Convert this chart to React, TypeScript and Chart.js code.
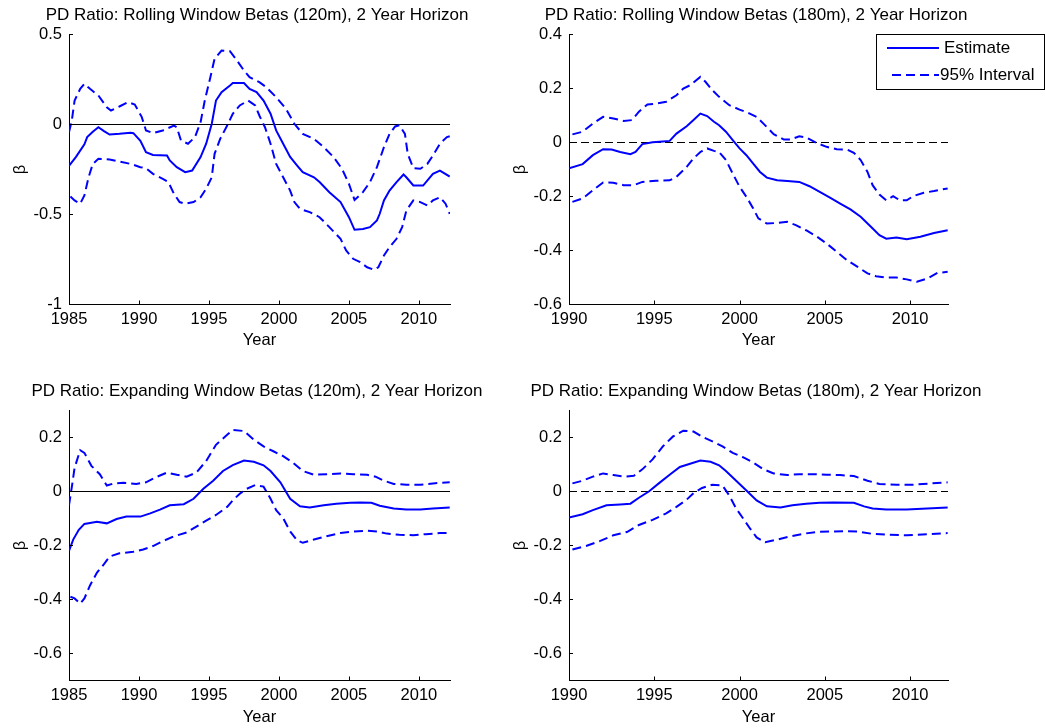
import React, { useEffect, useRef } from "react";
import { Chart, registerables } from "chart.js";

Chart.register(...registerables);

type Pt = [number, number];

// ---------- tick labels ----------
const xTicks1985 = [1985, 1990, 1995, 2000, 2005, 2010];
const xTicks1990 = [1990, 1995, 2000, 2005, 2010];
const yTicksRolling120 = [-1, -0.5, 0, 0.5];
const yTicksRolling180 = [-0.6, -0.4, -0.2, 0, 0.2, 0.4];
const yTicksExpanding = [-0.6, -0.4, -0.2, 0, 0.2];

const titles = [
  "PD Ratio: Rolling Window Betas (120m), 2 Year Horizon",
  "PD Ratio: Rolling Window Betas (180m), 2 Year Horizon",
  "PD Ratio: Expanding Window Betas (120m), 2 Year Horizon",
  "PD Ratio: Expanding Window Betas (180m), 2 Year Horizon",
];
const legendLabels = ["Estimate", "95% Interval"];
const xAxisLabel = "Year";
const yAxisLabel = "β";

// ---------- Panel 1: rolling 120m ----------
const rolling120Estimate: Pt[] = [
  [1985.0, -0.23], [1985.5, -0.18], [1986.1, -0.11], [1986.3, -0.07], [1986.7, -0.04], [1987.1, -0.015],
  [1987.5, -0.037], [1987.9, -0.056], [1988.6, -0.052], [1989.4, -0.046], [1989.6, -0.048], [1990.1, -0.09],
  [1990.5, -0.154], [1991.0, -0.169], [1992.0, -0.172], [1992.2, -0.2], [1992.7, -0.237], [1993.3, -0.265],
  [1993.8, -0.256], [1994.4, -0.181], [1994.8, -0.107], [1995.2, 0.004], [1995.5, 0.133], [1995.9, 0.18],
  [1996.5, 0.217], [1996.7, 0.23], [1997.5, 0.23], [1997.9, 0.198], [1998.4, 0.18], [1998.9, 0.133],
  [1999.4, 0.06], [1999.8, -0.033], [2000.3, -0.107], [2000.8, -0.18], [2001.3, -0.228], [2001.7, -0.265],
  [2002.5, -0.293], [2002.9, -0.32], [2003.6, -0.376], [2004.4, -0.431], [2005.0, -0.515], [2005.4, -0.585],
  [2006.0, -0.58], [2006.5, -0.57], [2007.0, -0.533], [2007.2, -0.496], [2007.5, -0.422], [2007.9, -0.367],
  [2008.4, -0.32], [2008.9, -0.278], [2009.1, -0.293], [2009.6, -0.339], [2010.3, -0.339], [2011.0, -0.274],
  [2011.5, -0.256], [2012.2, -0.289],
];
const rolling120Upper: Pt[] = [
  [1985.0, -0.043], [1985.2, 0.022], [1985.4, 0.133], [1985.8, 0.198], [1986.1, 0.226], [1986.5, 0.198],
  [1987.1, 0.161], [1987.7, 0.096], [1988.0, 0.078], [1988.6, 0.1], [1989.2, 0.124], [1989.7, 0.111],
  [1990.2, 0.041], [1990.5, -0.033], [1991.0, -0.048], [1991.7, -0.033], [1992.5, -0.006], [1992.7, -0.015],
  [1993.0, -0.089], [1993.5, -0.107], [1994.0, -0.07], [1994.4, 0.013], [1994.7, 0.133], [1995.1, 0.263],
  [1995.4, 0.365], [1995.9, 0.411], [1996.5, 0.407], [1997.0, 0.356], [1997.5, 0.3], [1997.9, 0.263],
  [1998.6, 0.235], [1999.1, 0.207], [1999.8, 0.152], [2000.5, 0.087], [2001.1, 0.004], [2001.7, -0.052],
  [2002.5, -0.08], [2003.2, -0.126], [2003.9, -0.181], [2004.5, -0.246], [2005.0, -0.33], [2005.4, -0.419],
  [2006.0, -0.376], [2006.5, -0.32], [2007.0, -0.237], [2007.5, -0.126], [2007.9, -0.052], [2008.3, -0.011],
  [2008.6, -0.004], [2009.0, -0.052], [2009.2, -0.163], [2009.6, -0.243], [2010.1, -0.246], [2010.6, -0.219],
  [2011.0, -0.172], [2011.5, -0.107], [2012.0, -0.07], [2012.2, -0.065],
];
const rolling120Lower: Pt[] = [
  [1985.1, -0.4], [1985.4, -0.422], [1985.8, -0.44], [1986.1, -0.394], [1986.4, -0.293], [1986.7, -0.219],
  [1987.1, -0.191], [1987.9, -0.194], [1988.6, -0.206], [1989.4, -0.219], [1990.1, -0.237], [1990.5, -0.243],
  [1991.0, -0.274], [1991.7, -0.302], [1992.1, -0.32], [1992.5, -0.385], [1992.9, -0.431], [1993.3, -0.44],
  [1993.9, -0.431], [1994.4, -0.404], [1994.8, -0.357], [1995.2, -0.293], [1995.4, -0.163], [1995.8, -0.08],
  [1996.3, -0.006], [1996.7, 0.059], [1997.2, 0.106], [1997.8, 0.133], [1998.3, 0.106], [1998.6, 0.05],
  [1999.0, -0.015], [1999.4, -0.107], [1999.8, -0.219], [2000.3, -0.293], [2000.8, -0.367], [2001.1, -0.431],
  [2001.5, -0.469], [2002.2, -0.487], [2002.9, -0.515], [2003.6, -0.57], [2004.4, -0.635], [2004.8, -0.7],
  [2005.3, -0.746], [2005.8, -0.765], [2006.3, -0.793], [2006.8, -0.807], [2007.1, -0.793], [2007.5, -0.728],
  [2007.9, -0.681], [2008.4, -0.635], [2008.8, -0.57], [2009.1, -0.478], [2009.6, -0.422], [2010.1, -0.431],
  [2010.6, -0.45], [2011.0, -0.422], [2011.5, -0.404], [2011.9, -0.44], [2012.2, -0.496],
];

// ---------- Panel 2: rolling 180m ----------
const rolling180Estimate: Pt[] = [
  [1990.0, -0.096], [1990.8, -0.08], [1991.4, -0.047], [1992.0, -0.025], [1992.5, -0.026], [1993.0, -0.035],
  [1993.6, -0.043], [1993.9, -0.035], [1994.3, -0.006], [1994.9, 0.001], [1995.5, 0.004], [1995.9, 0.006],
  [1996.3, 0.033], [1996.9, 0.06], [1997.3, 0.083], [1997.7, 0.107], [1998.1, 0.098], [1998.5, 0.077],
  [1998.8, 0.064], [1999.2, 0.04], [1999.6, 0.009], [2000.0, -0.022], [2000.4, -0.047], [2000.8, -0.078],
  [2001.2, -0.109], [2001.6, -0.13], [2002.2, -0.14], [2002.8, -0.143], [2003.5, -0.146], [2004.1, -0.162],
  [2004.7, -0.183], [2005.3, -0.204], [2005.9, -0.226], [2006.5, -0.248], [2007.1, -0.275], [2007.7, -0.312],
  [2008.2, -0.343], [2008.6, -0.356], [2009.2, -0.352], [2009.8, -0.358], [2010.6, -0.349], [2011.4, -0.335],
  [2012.2, -0.325],
];
const rolling180Upper: Pt[] = [
  [1990.2, 0.03], [1990.8, 0.04], [1991.4, 0.07], [1992.0, 0.095], [1992.6, 0.089], [1993.2, 0.08],
  [1993.7, 0.083], [1994.1, 0.114], [1994.6, 0.141], [1995.1, 0.144], [1995.7, 0.151], [1996.3, 0.175],
  [1996.7, 0.2], [1997.1, 0.212], [1997.7, 0.243], [1998.0, 0.225], [1998.4, 0.194], [1998.8, 0.169],
  [1999.4, 0.138], [2000.0, 0.122], [2000.6, 0.107], [2001.0, 0.095], [2001.4, 0.07], [2002.0, 0.031],
  [2002.6, 0.011], [2003.0, 0.011], [2003.5, 0.023], [2003.9, 0.019], [2004.5, -0.001], [2005.1, -0.016],
  [2005.7, -0.025], [2006.3, -0.026], [2006.7, -0.038], [2007.1, -0.065], [2007.5, -0.109], [2007.8, -0.158],
  [2008.2, -0.193], [2008.6, -0.214], [2009.0, -0.199], [2009.4, -0.214], [2009.8, -0.214], [2010.2, -0.198],
  [2010.8, -0.186], [2011.4, -0.18], [2012.2, -0.17],
];
const rolling180Lower: Pt[] = [
  [1990.2, -0.22], [1990.8, -0.207], [1991.4, -0.177], [1992.0, -0.148], [1992.6, -0.149], [1993.2, -0.158],
  [1993.8, -0.158], [1994.3, -0.146], [1995.1, -0.142], [1995.9, -0.14], [1996.3, -0.127], [1996.9, -0.09],
  [1997.3, -0.059], [1997.7, -0.035], [1998.1, -0.022], [1998.5, -0.031], [1998.8, -0.035], [1999.2, -0.065],
  [1999.6, -0.115], [2000.0, -0.164], [2000.4, -0.201], [2000.8, -0.244], [2001.1, -0.281], [2001.6, -0.3],
  [2002.2, -0.298], [2002.8, -0.294], [2003.3, -0.306], [2003.9, -0.325], [2004.5, -0.347], [2005.1, -0.374],
  [2005.7, -0.405], [2006.3, -0.436], [2006.9, -0.46], [2007.5, -0.485], [2008.0, -0.495], [2008.6, -0.5],
  [2009.2, -0.5], [2009.8, -0.507], [2010.4, -0.516], [2011.0, -0.504], [2011.6, -0.483], [2012.2, -0.479],
];

// ---------- Panel 3: expanding 120m ----------
const expanding120Estimate: Pt[] = [
  [1985.0, -0.22], [1985.3, -0.178], [1985.7, -0.142], [1986.1, -0.12], [1987.0, -0.112], [1987.7, -0.118],
  [1988.4, -0.102], [1989.1, -0.093], [1990.1, -0.093], [1990.8, -0.081], [1991.5, -0.067], [1992.2, -0.051],
  [1993.2, -0.047], [1993.9, -0.027], [1994.6, 0.01], [1995.3, 0.04], [1996.0, 0.076], [1996.7, 0.098],
  [1997.5, 0.115], [1998.2, 0.11], [1998.9, 0.097], [1999.4, 0.076], [2000.1, 0.034], [2000.8, -0.027],
  [2001.5, -0.055], [2002.2, -0.059], [2003.2, -0.051], [2004.1, -0.045], [2005.1, -0.042], [2005.8, -0.041],
  [2006.6, -0.042], [2007.2, -0.053], [2008.2, -0.063], [2009.1, -0.067], [2010.1, -0.067], [2011.0, -0.063],
  [2012.2, -0.059],
];
const expanding120Upper: Pt[] = [
  [1985.0, -0.051], [1985.2, 0.016], [1985.4, 0.088], [1985.8, 0.153], [1986.1, 0.143], [1986.6, 0.095],
  [1987.2, 0.064], [1987.7, 0.022], [1988.2, 0.03], [1988.9, 0.032], [1989.8, 0.028], [1990.5, 0.034],
  [1991.3, 0.055], [1992.0, 0.07], [1992.7, 0.062], [1993.4, 0.055], [1994.1, 0.07], [1994.8, 0.113],
  [1995.5, 0.173], [1996.3, 0.21], [1996.7, 0.228], [1997.5, 0.224], [1998.2, 0.192], [1998.9, 0.167],
  [1999.6, 0.149], [2000.3, 0.131], [2001.0, 0.107], [2001.7, 0.076], [2002.5, 0.062], [2003.4, 0.064],
  [2004.4, 0.067], [2005.3, 0.064], [2006.3, 0.062], [2006.9, 0.055], [2007.5, 0.04], [2008.2, 0.028],
  [2009.1, 0.025], [2010.1, 0.025], [2011.0, 0.03], [2012.2, 0.034],
];
const expanding120Lower: Pt[] = [
  [1985.1, -0.39], [1985.4, -0.396], [1985.8, -0.415], [1986.1, -0.396], [1986.5, -0.348], [1987.0, -0.3],
  [1987.5, -0.269], [1987.9, -0.241], [1988.6, -0.229], [1989.6, -0.223], [1990.3, -0.215], [1991.0, -0.202],
  [1991.7, -0.184], [1992.5, -0.166], [1993.4, -0.152], [1994.1, -0.13], [1994.8, -0.108], [1995.5, -0.087],
  [1996.3, -0.057], [1996.7, -0.033], [1997.2, -0.008], [1997.7, 0.01], [1998.3, 0.024], [1998.9, 0.018],
  [1999.4, -0.027], [1999.8, -0.069], [2000.3, -0.099], [2000.8, -0.148], [2001.3, -0.181], [2001.7, -0.19],
  [2002.5, -0.178], [2003.4, -0.166], [2004.4, -0.154], [2005.3, -0.148], [2006.3, -0.145], [2007.0, -0.148],
  [2007.7, -0.156], [2008.6, -0.16], [2009.6, -0.162], [2010.5, -0.158], [2011.5, -0.154], [2012.2, -0.154],
];

// ---------- Panel 4: expanding 180m ----------
const expanding180Estimate: Pt[] = [
  [1990.0, -0.096], [1990.8, -0.084], [1991.4, -0.069], [1992.2, -0.051], [1993.0, -0.048], [1993.6, -0.045],
  [1994.1, -0.023], [1994.7, 0.001], [1995.3, 0.032], [1995.9, 0.062], [1996.5, 0.091], [1997.1, 0.103],
  [1997.7, 0.115], [1998.3, 0.11], [1998.8, 0.097], [1999.2, 0.076], [1999.8, 0.04], [2000.4, 0.004],
  [2001.0, -0.033], [2001.6, -0.055], [2002.4, -0.059], [2003.1, -0.051], [2003.9, -0.045], [2004.7, -0.042],
  [2005.5, -0.041], [2006.7, -0.042], [2007.3, -0.055], [2007.8, -0.063], [2008.6, -0.067], [2009.8, -0.067],
  [2011.0, -0.063], [2012.2, -0.059],
];
const expanding180Upper: Pt[] = [
  [1990.2, 0.03], [1990.8, 0.04], [1991.4, 0.055], [1992.0, 0.067], [1992.6, 0.061], [1993.2, 0.055],
  [1993.8, 0.058], [1994.3, 0.082], [1994.9, 0.119], [1995.5, 0.167], [1996.1, 0.204], [1996.7, 0.225],
  [1997.3, 0.222], [1997.9, 0.2], [1998.5, 0.183], [1999.0, 0.167], [1999.6, 0.143], [2000.2, 0.127],
  [2000.8, 0.107], [2001.4, 0.082], [2002.0, 0.067], [2002.8, 0.061], [2003.5, 0.064], [2004.3, 0.064],
  [2005.1, 0.062], [2005.9, 0.061], [2006.7, 0.057], [2007.5, 0.04], [2008.2, 0.028], [2009.2, 0.025],
  [2010.2, 0.025], [2011.2, 0.03], [2012.2, 0.034],
];
const expanding180Lower: Pt[] = [
  [1990.2, -0.215], [1991.0, -0.202], [1991.8, -0.184], [1992.6, -0.162], [1993.4, -0.15], [1994.1, -0.124],
  [1994.9, -0.105], [1995.7, -0.081], [1996.3, -0.057], [1996.9, -0.03], [1997.3, -0.006], [1997.8, 0.013],
  [1998.4, 0.025], [1999.0, 0.022], [1999.4, -0.015], [1999.8, -0.063], [2000.2, -0.099], [2000.6, -0.136],
  [2001.0, -0.17], [2001.5, -0.188], [2002.2, -0.178], [2003.0, -0.166], [2003.8, -0.156], [2004.5, -0.15],
  [2005.3, -0.148], [2006.1, -0.147], [2006.9, -0.148], [2007.7, -0.156], [2008.6, -0.16], [2009.8, -0.162],
  [2011.0, -0.158], [2012.2, -0.154],
];

// ---------- styling / layout ----------
const BLUE = "#0000ff";
const FONT = "'Liberation Sans', Arial, Helvetica, sans-serif";
const TICK_FONT = { family: FONT, size: 16.5 };
const TITLE_FONT = { family: FONT, size: 17 };

interface Panel {
  title: string;
  est: Pt[];
  up: Pt[];
  lo: Pt[];
  xRange: [number, number];
  yRange: [number, number];
  xTicks: number[];
  yTicks: number[];
  zeroDashed: boolean;
  legend: boolean;
  left: number;
  top: number;
  width: number;
  height: number;
  padRight: number;
  titleTop: number;
  xAxisHeight: number;
}

const panels: Panel[] = [
  {
    title: titles[0], est: rolling120Estimate, up: rolling120Upper, lo: rolling120Lower,
    xRange: [1985, 2012.22], yRange: [-1, 0.5], xTicks: xTicks1985, yTicks: yTicksRolling120,
    zeroDashed: false, legend: false, left: 0, top: 0, width: 500, height: 350, padRight: 50, titleTop: 4.8, xAxisHeight: 45.5,
  },
  {
    title: titles[1], est: rolling180Estimate, up: rolling180Upper, lo: rolling180Lower,
    xRange: [1990, 2012.22], yRange: [-0.6, 0.4], xTicks: xTicks1990, yTicks: yTicksRolling180,
    zeroDashed: true, legend: true, left: 500, top: 0, width: 545, height: 350, padRight: 97, titleTop: 4.8, xAxisHeight: 45.5,
  },
  {
    title: titles[2], est: expanding120Estimate, up: expanding120Upper, lo: expanding120Lower,
    xRange: [1985, 2012.22], yRange: [-0.7, 0.3], xTicks: xTicks1985, yTicks: yTicksExpanding,
    zeroDashed: false, legend: false, left: 0, top: 364, width: 500, height: 363, padRight: 50, titleTop: 16.8, xAxisHeight: 46.5,
  },
  {
    title: titles[3], est: expanding180Estimate, up: expanding180Upper, lo: expanding180Lower,
    xRange: [1990, 2012.22], yRange: [-0.7, 0.3], xTicks: xTicks1990, yTicks: yTicksExpanding,
    zeroDashed: true, legend: false, left: 500, top: 364, width: 545, height: 363, padRight: 97, titleTop: 16.8, xAxisHeight: 46.5,
  },
];

const toXY = (pts: Pt[]) => pts.map(([x, y]) => ({ x, y }));

// Let the title span wider than the plot box (as in the original), centred on the plot.
const wideTitle = {
  id: "wideTitle",
  afterLayout(chart: any) {
    const t = chart.titleBlock;
    if (!t) return;
    const cx = (chart.chartArea.left + chart.chartArea.right) / 2 - 2.5;
    t.left = cx - 260;
    t.right = cx + 260;
    t.width = 520;
  },
};

const insideTicks = {
  id: "insideTicks",
  afterDatasetsDraw(chart: any) {
    const { ctx, chartArea, scales } = chart;
    const xs = scales.x;
    const ys = scales.y;
    ctx.save();
    ctx.strokeStyle = "#000";
    ctx.lineWidth = 1;
    ctx.setLineDash([]);
    ctx.beginPath();
    xs.ticks.forEach((t: any) => {
      const px = Math.round(xs.getPixelForValue(t.value)) + 0.5;
      ctx.moveTo(px, chartArea.bottom);
      ctx.lineTo(px, chartArea.bottom - 4);
    });
    ys.ticks.forEach((t: any) => {
      const py = Math.floor(ys.getPixelForValue(t.value)) + 0.5;
      ctx.moveTo(chartArea.left, py);
      ctx.lineTo(chartArea.left + 4, py);
    });
    ctx.stroke();
    ctx.restore();
  },
};

const boxLegend = {
  id: "boxLegend",
  afterDraw(chart: any) {
    const { ctx, chartArea } = chart;
    const R = Math.round(chartArea.right);
    const T = Math.floor(chartArea.top);
    const ds = chart.data.datasets;
    ctx.save();
    ctx.fillStyle = "#fff";
    ctx.fillRect(R - 72, T, 168, 55);
    ctx.strokeStyle = "#000";
    ctx.lineWidth = 1;
    ctx.setLineDash([]);
    ctx.strokeRect(R - 72 + 0.5, T + 0.5, 168, 55);
    const items = [
      { ds: ds[0], x0: R - 61, x1: R - 9, y: T + 14, tx: R - 4 },
      { ds: ds[1], x0: R - 56, x1: R - 9, y: T + 41, tx: R - 8 },
    ];
    items.forEach((it, i) => {
      ctx.strokeStyle = it.ds.borderColor;
      ctx.lineWidth = it.ds.borderWidth;
      ctx.setLineDash(it.ds.borderDash || []);
      ctx.beginPath();
      ctx.moveTo(it.x0, it.y);
      ctx.lineTo(it.x1, it.y);
      ctx.stroke();
      ctx.setLineDash([]);
      ctx.fillStyle = "#000";
      ctx.font = `${TITLE_FONT.size}px ${FONT}`;
      ctx.textBaseline = "middle";
      ctx.textAlign = "left";
      ctx.fillText(legendLabels[i], it.tx, it.y);
    });
    ctx.restore();
  },
};

function makeConfig(p: Panel): any {
  return {
    type: "line",
    data: {
      datasets: [
        { label: legendLabels[0], data: toXY(p.est), borderColor: BLUE, borderWidth: 2, pointRadius: 0, tension: 0, order: 1 },
        { label: legendLabels[1], data: toXY(p.up), borderColor: BLUE, borderWidth: 2, borderDash: [9, 5], pointRadius: 0, tension: 0, order: 2 },
        { label: legendLabels[1] + " (lower)", data: toXY(p.lo), borderColor: BLUE, borderWidth: 2, borderDash: [9, 5], pointRadius: 0, tension: 0, order: 3 },
        {
          label: "zero",
          data: [{ x: p.xRange[0], y: 0 }, { x: p.xRange[1], y: 0 }],
          borderColor: "#000", borderWidth: 1, borderDash: p.zeroDashed ? [8, 4] : [], pointRadius: 0, order: 10,
        },
      ],
    },
    options: {
      responsive: false,
      animation: false,
      events: [],
      layout: { padding: { left: 0, right: p.padRight, top: 0, bottom: 0 } },
      plugins: {
        legend: { display: false },
        tooltip: { enabled: false },
        title: {
          display: true,
          text: p.title,
          fullSize: false,
          color: "#000",
          font: { ...TITLE_FONT, weight: "normal" },
          padding: { top: p.titleTop, bottom: 9.3 },
        },
      },
      scales: {
        x: {
          type: "linear",
          min: p.xRange[0],
          max: p.xRange[1],
          grid: { display: false, drawTicks: false },
          border: { display: true, color: "#000", width: 1 },
          ticks: { font: TICK_FONT, color: "#000", padding: 5, maxRotation: 0, autoSkip: false, callback: (v: any) => String(v) },
          afterBuildTicks: (s: any) => { s.ticks = p.xTicks.map((v) => ({ value: v })); },
          afterFit: (s: any) => { s.height = p.xAxisHeight; },
          title: { display: true, text: xAxisLabel, color: "#000", font: TICK_FONT, padding: { top: 0, bottom: 0 } },
        },
        y: {
          type: "linear",
          min: p.yRange[0],
          max: p.yRange[1],
          grid: { display: false, drawTicks: false },
          border: { display: true, color: "#000", width: 1 },
          ticks: { font: TICK_FONT, color: "#000", padding: 7, autoSkip: false, callback: (v: any) => String(v) },
          afterBuildTicks: (s: any) => { s.ticks = p.yTicks.map((v) => ({ value: v })); },
          afterFit: (s: any) => { s.width = 69; },
          title: { display: true, text: yAxisLabel, color: "#000", font: TICK_FONT, padding: { top: 11, bottom: 0 } },
        },
      },
    },
    plugins: p.legend ? [wideTitle, insideTicks, boxLegend] : [wideTitle, insideTicks],
  };
}

function PanelChart({ p }: { p: Panel }) {
  const ref = useRef<HTMLCanvasElement | null>(null);
  useEffect(() => {
    if (!ref.current) return;
    const chart = new Chart(ref.current, makeConfig(p));
    return () => chart.destroy();
  }, [p]);
  return (
    <canvas
      ref={ref}
      width={p.width}
      height={p.height}
      style={{ position: "absolute", left: p.left, top: p.top, width: p.width, height: p.height }}
    />
  );
}

export default function App() {
  return (
    <div style={{ position: "absolute", left: 0, top: 0, width: 1045, height: 728, overflow: "hidden", background: "#fff" }}>
      {panels.map((p, i) => (
        <PanelChart key={i} p={p} />
      ))}
    </div>
  );
}
